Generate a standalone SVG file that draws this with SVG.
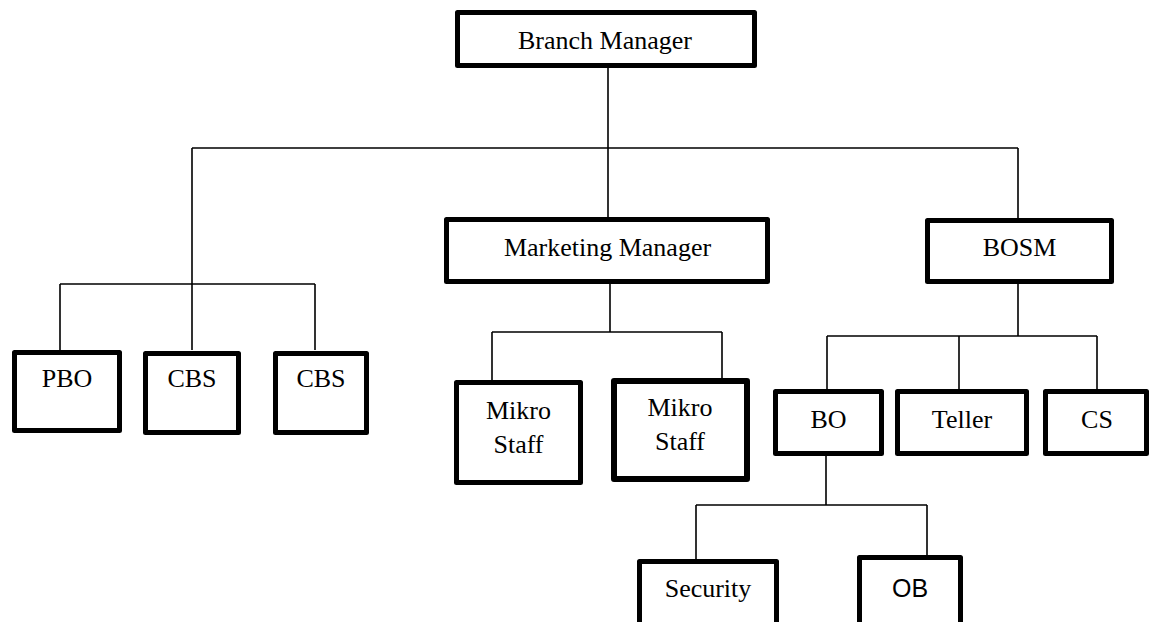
<svg xmlns="http://www.w3.org/2000/svg" width="1150" height="622" viewBox="0 0 1150 622">
<style>
.box{fill:#fff;stroke:#000;stroke-width:5;stroke-linejoin:round}
.t{font-family:"Liberation Serif","Times New Roman",serif;font-size:26px;fill:#000;text-anchor:middle}
.s{font-family:"Liberation Sans",Arial,sans-serif;font-size:25px;fill:#000;text-anchor:middle}
.c{fill:none;stroke:#000;stroke-width:1.6}
</style>
<rect width="1150" height="622" fill="#fff"/>
<g id="connectors">
<path class="c" d="M608 68V148M192 148H1018M192 148V284M60 284H315M60 284V350M192 284V350M315 284V350"/>
<path class="c" d="M608 148V217M1018 148V218"/>
<path class="c" d="M610 284V332M492 332H722M492 332V380M722 332V378"/>
<path class="c" d="M1018 284V336M827 336H1097M827 336V389M959 336V389M1097 336V389"/>
<path class="c" d="M826 456V505M696 505H927M696 505V559M927 505V555"/>
</g>
<g id="branch-manager"><rect class="box" x="457.5" y="12.5" width="297" height="53"/><text class="t" x="605" y="49">Branch Manager</text></g>
<g id="pbo"><rect class="box" x="14.5" y="352.5" width="105" height="78"/><text class="t" x="67" y="387">PBO</text></g>
<g id="cbs1"><rect class="box" x="145.5" y="353.5" width="93" height="79"/><text class="t" x="192" y="387">CBS</text></g>
<g id="cbs2"><rect class="box" x="275.5" y="353.5" width="91" height="79"/><text class="t" x="321" y="387">CBS</text></g>
<g id="marketing-manager"><rect class="box" x="446.5" y="219.5" width="321" height="62"/><text class="t" x="607.5" y="256">Marketing Manager</text></g>
<g id="bosm"><rect class="box" x="927.5" y="220.5" width="184" height="61"/><text class="t" x="1019.5" y="256">BOSM</text></g>
<g id="mikro1"><rect class="box" x="456.5" y="382.5" width="124" height="100"/><text class="t" x="518.5" y="419">Mikro</text><text class="t" x="518.5" y="453">Staff</text></g>
<g id="mikro2"><rect class="box" x="614" y="381" width="133" height="98" style="stroke-width:6"/><text class="t" x="680" y="416">Mikro</text><text class="t" x="680" y="450">Staff</text></g>
<g id="bo"><rect class="box" x="775.5" y="391.5" width="106" height="62"/><text class="t" x="828.5" y="428">BO</text></g>
<g id="teller"><rect class="box" x="897.5" y="391.5" width="129" height="62"/><text class="t" x="962" y="428">Teller</text></g>
<g id="cs"><rect class="box" x="1045.5" y="391.5" width="101" height="62"/><text class="t" x="1097" y="428">CS</text></g>
<g id="security"><rect class="box" x="639.5" y="561.5" width="137" height="80"/><text class="t" x="708" y="597">Security</text></g>
<g id="ob"><rect class="box" x="859.5" y="557.5" width="101" height="80"/><text class="s" x="910" y="597">OB</text></g>
</svg>
